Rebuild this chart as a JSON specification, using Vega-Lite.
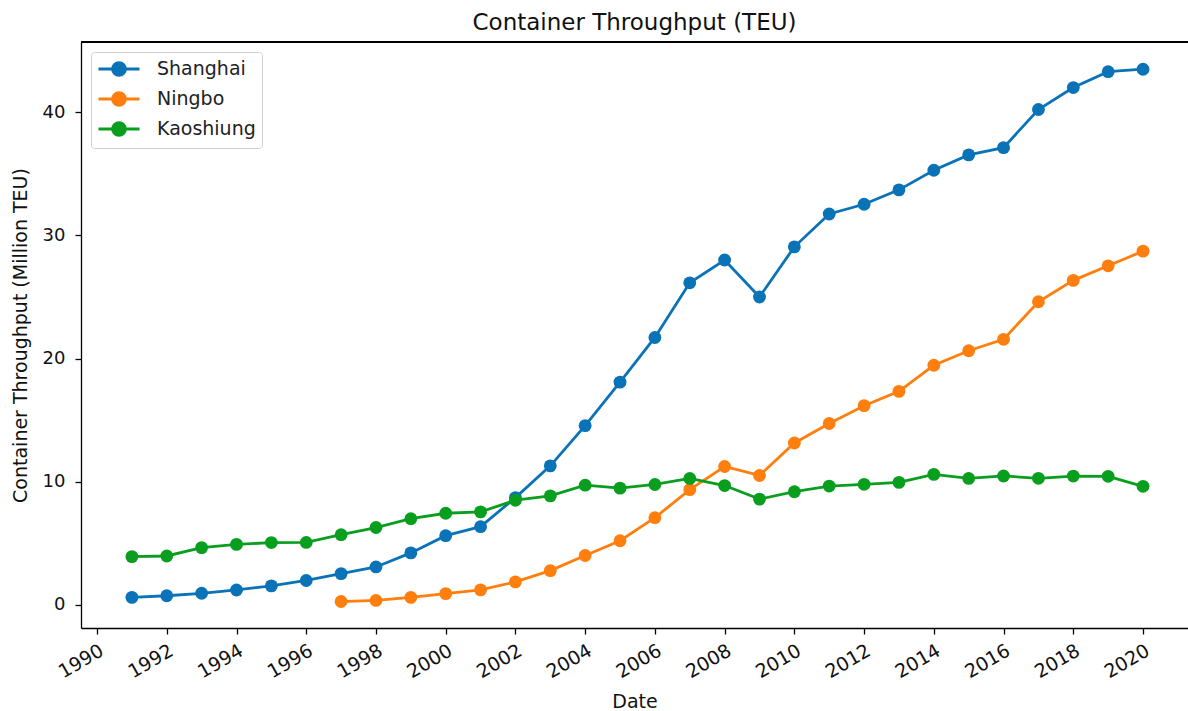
{
  "$schema": "https://vega.github.io/schema/vega-lite/v6.json",
  "autosize": "none",
  "width": 1107,
  "height": 586,
  "padding": {"left": 81, "top": 42, "right": 0, "bottom": 83},
  "background": "white",
  "config": {
    "view": {"stroke": null},
    "font": "DejaVu Sans",
    "axis": {
      "domainColor": "black",
      "domainWidth": 1.3,
      "tickColor": "black",
      "tickWidth": 1.3,
      "tickSize": 6,
      "grid": false,
      "labelFont": "DejaVu Sans",
      "labelFontSize": 18,
      "labelColor": "#111111",
      "titleFont": "DejaVu Sans",
      "titleFontSize": 19,
      "titleFontWeight": "normal",
      "titleColor": "#111111"
    }
  },
  "title": {
    "text": "Container Throughput (TEU)",
    "font": "DejaVu Sans",
    "fontSize": 23,
    "fontWeight": "normal",
    "color": "#111111",
    "anchor": "middle",
    "offset": 6
  },
  "data": {
    "values": [
      {"year": 1991, "port": "Shanghai", "value": 0.6},
      {"year": 1992, "port": "Shanghai", "value": 0.73},
      {"year": 1993, "port": "Shanghai", "value": 0.93},
      {"year": 1994, "port": "Shanghai", "value": 1.2},
      {"year": 1995, "port": "Shanghai", "value": 1.53},
      {"year": 1996, "port": "Shanghai", "value": 1.97},
      {"year": 1997, "port": "Shanghai", "value": 2.53},
      {"year": 1998, "port": "Shanghai", "value": 3.07},
      {"year": 1999, "port": "Shanghai", "value": 4.21},
      {"year": 2000, "port": "Shanghai", "value": 5.61},
      {"year": 2001, "port": "Shanghai", "value": 6.34},
      {"year": 2002, "port": "Shanghai", "value": 8.7},
      {"year": 2003, "port": "Shanghai", "value": 11.28},
      {"year": 2004, "port": "Shanghai", "value": 14.55},
      {"year": 2005, "port": "Shanghai", "value": 18.08},
      {"year": 2006, "port": "Shanghai", "value": 21.71},
      {"year": 2007, "port": "Shanghai", "value": 26.15},
      {"year": 2008, "port": "Shanghai", "value": 28.0},
      {"year": 2009, "port": "Shanghai", "value": 25.0},
      {"year": 2010, "port": "Shanghai", "value": 29.07},
      {"year": 2011, "port": "Shanghai", "value": 31.74},
      {"year": 2012, "port": "Shanghai", "value": 32.53},
      {"year": 2013, "port": "Shanghai", "value": 33.7},
      {"year": 2014, "port": "Shanghai", "value": 35.29},
      {"year": 2015, "port": "Shanghai", "value": 36.54},
      {"year": 2016, "port": "Shanghai", "value": 37.13},
      {"year": 2017, "port": "Shanghai", "value": 40.23},
      {"year": 2018, "port": "Shanghai", "value": 42.01},
      {"year": 2019, "port": "Shanghai", "value": 43.3},
      {"year": 2020, "port": "Shanghai", "value": 43.5},
      {"year": 1997, "port": "Ningbo", "value": 0.26},
      {"year": 1998, "port": "Ningbo", "value": 0.35},
      {"year": 1999, "port": "Ningbo", "value": 0.6},
      {"year": 2000, "port": "Ningbo", "value": 0.9},
      {"year": 2001, "port": "Ningbo", "value": 1.21},
      {"year": 2002, "port": "Ningbo", "value": 1.86},
      {"year": 2003, "port": "Ningbo", "value": 2.77},
      {"year": 2004, "port": "Ningbo", "value": 4.0},
      {"year": 2005, "port": "Ningbo", "value": 5.2},
      {"year": 2006, "port": "Ningbo", "value": 7.07},
      {"year": 2007, "port": "Ningbo", "value": 9.35},
      {"year": 2008, "port": "Ningbo", "value": 11.23},
      {"year": 2009, "port": "Ningbo", "value": 10.5},
      {"year": 2010, "port": "Ningbo", "value": 13.14},
      {"year": 2011, "port": "Ningbo", "value": 14.72},
      {"year": 2012, "port": "Ningbo", "value": 16.17},
      {"year": 2013, "port": "Ningbo", "value": 17.33},
      {"year": 2014, "port": "Ningbo", "value": 19.45},
      {"year": 2015, "port": "Ningbo", "value": 20.63},
      {"year": 2016, "port": "Ningbo", "value": 21.56},
      {"year": 2017, "port": "Ningbo", "value": 24.61},
      {"year": 2018, "port": "Ningbo", "value": 26.35},
      {"year": 2019, "port": "Ningbo", "value": 27.53},
      {"year": 2020, "port": "Ningbo", "value": 28.72},
      {"year": 1991, "port": "Kaoshiung", "value": 3.91},
      {"year": 1992, "port": "Kaoshiung", "value": 3.96},
      {"year": 1993, "port": "Kaoshiung", "value": 4.64},
      {"year": 1994, "port": "Kaoshiung", "value": 4.9},
      {"year": 1995, "port": "Kaoshiung", "value": 5.05},
      {"year": 1996, "port": "Kaoshiung", "value": 5.06},
      {"year": 1997, "port": "Kaoshiung", "value": 5.69},
      {"year": 1998, "port": "Kaoshiung", "value": 6.27},
      {"year": 1999, "port": "Kaoshiung", "value": 6.99},
      {"year": 2000, "port": "Kaoshiung", "value": 7.43},
      {"year": 2001, "port": "Kaoshiung", "value": 7.54},
      {"year": 2002, "port": "Kaoshiung", "value": 8.49},
      {"year": 2003, "port": "Kaoshiung", "value": 8.84},
      {"year": 2004, "port": "Kaoshiung", "value": 9.71},
      {"year": 2005, "port": "Kaoshiung", "value": 9.47},
      {"year": 2006, "port": "Kaoshiung", "value": 9.77},
      {"year": 2007, "port": "Kaoshiung", "value": 10.26},
      {"year": 2008, "port": "Kaoshiung", "value": 9.68},
      {"year": 2009, "port": "Kaoshiung", "value": 8.58},
      {"year": 2010, "port": "Kaoshiung", "value": 9.18},
      {"year": 2011, "port": "Kaoshiung", "value": 9.64},
      {"year": 2012, "port": "Kaoshiung", "value": 9.78},
      {"year": 2013, "port": "Kaoshiung", "value": 9.94},
      {"year": 2014, "port": "Kaoshiung", "value": 10.59},
      {"year": 2015, "port": "Kaoshiung", "value": 10.26},
      {"year": 2016, "port": "Kaoshiung", "value": 10.46},
      {"year": 2017, "port": "Kaoshiung", "value": 10.27},
      {"year": 2018, "port": "Kaoshiung", "value": 10.45},
      {"year": 2019, "port": "Kaoshiung", "value": 10.43},
      {"year": 2020, "port": "Kaoshiung", "value": 9.62}
    ]
  },
  "layer": [
    {
      "mark": {"type": "rule", "color": "black", "strokeWidth": 1.3},
      "encoding": {"y": {"datum": 45.71, "type": "quantitative", "scale": {"domain": [-1.89, 45.71], "nice": false, "zero": false}}}
    },
    {
      "mark": {"type": "line", "strokeWidth": 2.8},
      "encoding": {
        "x": {"field": "year", "type": "quantitative"},
        "y": {"field": "value", "type": "quantitative"},
        "color": {"field": "port", "type": "nominal", "scale": {"domain": ["Shanghai", "Ningbo", "Kaoshiung"], "range": ["#0a72b6", "#ff7f0e", "#0a9e1f"]}}
      }
    },
    {
      "mark": {"type": "point", "filled": true, "opacity": 1, "size": 165},
      "encoding": {
        "x": {
          "field": "year", "type": "quantitative",
          "scale": {"domain": [1989.54, 2021.29], "nice": false, "zero": false},
          "axis": {
            "title": "Date",
            "values": [1990, 1992, 1994, 1996, 1998, 2000, 2002, 2004, 2006, 2008, 2010, 2012, 2014, 2016, 2018, 2020],
            "format": "d",
            "labelAngle": -30,
            "labelAlign": "right",
            "labelBaseline": "top",
            "labelFontSize": 19,
            "labelPadding": 7,
            "labelDx": -9,
            "labelFlush": false,
            "labelOverlap": false,
            "titlePadding": 11
          }
        },
        "y": {
          "field": "value", "type": "quantitative",
          "scale": {"domain": [-1.89, 45.71], "nice": false, "zero": false},
          "axis": {
            "title": "Container Throughput (Million TEU)",
            "values": [0, 10, 20, 30, 40],
            "labelPadding": 10,
            "titlePadding": 12
          }
        },
        "color": {
          "field": "port", "type": "nominal",
          "scale": {"domain": ["Shanghai", "Ningbo", "Kaoshiung"], "range": ["#0a72b6", "#ff7f0e", "#0a9e1f"]},
          "legend": {
            "title": null,
            "orient": "top-left",
            "offset": 10,
            "padding": 6,
            "fillColor": "white",
            "strokeColor": "#d0d0d0",
            "cornerRadius": 3,
            "labelFont": "DejaVu Sans",
            "labelFontSize": 19,
            "labelColor": "#222222",
            "labelOffset": 27,
            "symbolOffset": 11,
            "rowPadding": 4,
            "symbolSize": 361,
            "symbolStrokeWidth": 2.8,
            "symbolType": "M-2.16,0H2.16M-0.68,0A0.68,0.68,0,1,0,0.68,0A0.68,0.68,0,1,0,-0.68,0Z",
            "encode": {
              "symbols": {
                "update": {
                  "shape": {"value": "M-2.16,0H2.16M-0.68,0A0.68,0.68,0,1,0,0.68,0A0.68,0.68,0,1,0,-0.68,0Z"},
                  "fill": {"scale": "color", "field": "value"},
                  "stroke": {"scale": "color", "field": "value"},
                  "strokeWidth": {"value": 2.8},
                  "size": {"value": 361},
                  "opacity": {"value": 1}
                }
              }
            }
          }
        }
      }
    }
  ]
}
